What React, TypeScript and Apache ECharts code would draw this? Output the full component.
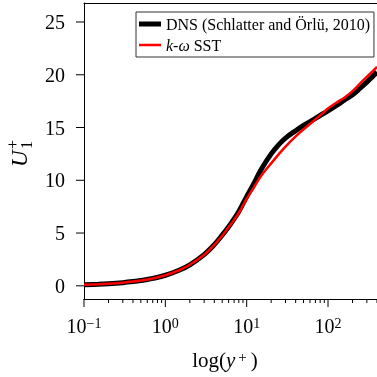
import React, { useEffect, useRef } from 'react';
import * as echarts from 'echarts';

const yPlus = [0.1, 0.15, 0.2, 0.3, 0.4, 0.5, 0.7, 1, 1.5, 2, 3, 4, 5, 6, 7, 8, 10, 12, 15, 20, 25, 30, 40, 50, 60, 80, 100, 130, 160, 200, 250, 300, 350, 400];
const dnsU = [0.1, 0.15, 0.2, 0.3, 0.4, 0.5, 0.7, 1.0, 1.5, 1.99, 2.96, 3.9, 4.8, 5.6, 6.35, 7.05, 8.45, 9.55, 11.0, 12.5, 13.4, 14.0, 14.7, 15.2, 15.56, 16.14, 16.58, 17.14, 17.62, 18.1, 18.75, 19.3, 19.8, 20.25];
const sstU = [0.1, 0.15, 0.2, 0.3, 0.4, 0.5, 0.7, 1.0, 1.5, 1.99, 2.95, 3.88, 4.75, 5.55, 6.25, 6.9, 8.25, 9.2, 10.4, 11.6, 12.5, 13.19, 14.16, 14.84, 15.34, 16.15, 16.8, 17.41, 17.85, 18.45, 19.2, 19.8, 20.3, 20.75];

const xMajorTicks = [0.1, 1, 10, 100];
const xMinorTicks = [0.2, 0.3, 0.4, 0.5, 0.6, 0.7, 0.8, 0.9, 2, 3, 4, 5, 6, 7, 8, 9, 20, 30, 40, 50, 60, 70, 80, 90, 200, 300, 400];
const yTicks = [0, 5, 10, 15, 20, 25];
const seriesNames = ['DNS (Schlatter and Örlü, 2010)', 'k-ω SST'];

const X_MIN = 0.1;
const X_MAX = 400;
const Y_MIN = -1.25;
const Y_MAX = 26.8;
const FONT = "'Liberation Serif', 'Times New Roman', serif";

function tickSeries(name: string, data: number[][], dir: 'down' | 'left', len: number) {
  return {
    type: 'custom', name, coordinateSystem: 'cartesian2d', xAxisIndex: 0, yAxisIndex: 0,
    silent: true, clip: false, z: 5,
    data,
    renderItem: (_params: any, api: any) => {
      const p = api.coord([api.value(0), api.value(1)]);
      const dx = dir === 'left' ? -len : 0;
      const dy = dir === 'down' ? len : 0;
      return {
        type: 'line',
        shape: { x1: p[0], y1: p[1], x2: p[0] + dx, y2: p[1] + dy },
        style: { stroke: '#000', lineWidth: 1 },
      };
    },
  };
}

export default function App() {
  const ref = useRef<HTMLDivElement>(null);
  useEffect(() => {
    const chart = echarts.init(ref.current as HTMLDivElement, null, { renderer: 'svg' });
    const option: any = {
      animation: false,
      grid: { left: 84, top: 3, width: 294, height: 296 },
      xAxis: [
        {
          type: 'log', logBase: 10, min: X_MIN, max: X_MAX, position: 'bottom',
          axisLine: { show: true, onZero: false, lineStyle: { color: '#000', width: 1 } },
          axisTick: { show: false },
          axisLabel: {
            margin: 17, color: '#000', showMaxLabel: false,
            formatter: (v: number) => {
              const e = Math.round(Math.log10(v));
              return `{b|10}{s|${e < 0 ? '−' + -e : e}}`;
            },
            rich: {
              b: { fontSize: 20, fontFamily: FONT, color: '#000', lineHeight: 20, verticalAlign: 'bottom' },
              s: { fontSize: 14, fontFamily: FONT, color: '#000', lineHeight: 14, verticalAlign: 'top', padding: [0, 0, 13, 0] },
            },
          },
          splitLine: { show: false },
        },
        {
          type: 'value', gridIndex: 0, min: Math.log10(X_MIN), max: Math.log10(X_MAX), position: 'top',
          axisLine: { show: true, onZero: false, lineStyle: { color: '#000', width: 1 } },
          axisTick: { show: false },
          axisLabel: { show: false },
          splitLine: { show: false },
        },
      ],
      yAxis: {
        type: 'value', min: Y_MIN, max: Y_MAX,
        axisLine: { show: true, onZero: false, lineStyle: { color: '#000', width: 1 } },
        axisTick: { show: false },
        axisLabel: { customValues: yTicks, fontSize: 20, fontFamily: FONT, color: '#000', margin: 19 },
        splitLine: { show: false },
      },
      legend: {
        orient: 'vertical', left: 136, top: 12,
        itemWidth: 22, itemHeight: 14, itemGap: 5,
        padding: [4, 4, 4, 3],
        borderColor: '#333', borderWidth: 1, borderRadius: 0, backgroundColor: '#fff',
        symbolKeepAspect: true,
        textStyle: {
          fontFamily: FONT, fontSize: 16, color: '#000', lineHeight: 16,
          rich: { i: { fontStyle: 'italic', fontFamily: FONT, fontSize: 16, color: '#000', lineHeight: 16 } },
        },
        formatter: (name: string) => (name === seriesNames[1] ? '{i|k}-{i|ω} SST' : name),
        data: [
          { name: seriesNames[0], icon: 'path://M0,0H22V5H0Z' },
          { name: seriesNames[1], icon: 'path://M0,0H22V2.5H0Z' },
        ],
      },
      series: [
        {
          type: 'line', name: seriesNames[0], xAxisIndex: 0, yAxisIndex: 0,
          data: yPlus.map((x, i) => [x, dnsU[i]]),
          symbol: 'none', smooth: 0.4,
          lineStyle: { color: '#000', width: 5 }, itemStyle: { color: '#000' }, z: 2,
        },
        {
          type: 'line', name: seriesNames[1], xAxisIndex: 0, yAxisIndex: 0,
          data: yPlus.map((x, i) => [x, sstU[i]]),
          symbol: 'none', smooth: 0.4,
          lineStyle: { color: '#ff0000', width: 2.5 }, itemStyle: { color: '#ff0000' }, z: 3,
        },
        tickSeries('xMajor', xMajorTicks.map((v) => [v, Y_MIN]), 'down', 8),
        tickSeries('xMinor', xMinorTicks.map((v) => [v, Y_MIN]), 'down', 4),
        tickSeries('yMajor', yTicks.map((v) => [X_MIN, v]), 'left', 8),
      ],
      graphic: [
        {
          type: 'text', x: 225, y: 360,
          style: {
            text: '{a|log(}{i|y}{s|+}{a|)}',
            align: 'center', verticalAlign: 'middle', textAlign: 'center', textVerticalAlign: 'middle',
            rich: {
              a: { fontSize: 21, fontFamily: FONT, fill: '#000', color: '#000', lineHeight: 21, verticalAlign: 'bottom' },
              i: { fontSize: 21, fontFamily: FONT, fontStyle: 'italic', fill: '#000', color: '#000', lineHeight: 21, verticalAlign: 'bottom' },
              s: { fontSize: 15, fontFamily: FONT, fill: '#000', color: '#000', lineHeight: 15, verticalAlign: 'top', padding: [0, 4, 10, 3] },
            },
          },
        },
        {
          type: 'group', x: 27, y: 167, rotation: Math.PI / 2,
          children: [
            { type: 'text', x: 0, y: -8, style: { text: 'U', font: `italic 23px ${FONT}`, fill: '#000', verticalAlign: 'middle', textVerticalAlign: 'middle' } },
            { type: 'text', x: 18, y: -15, style: { text: '+', font: `16px ${FONT}`, fill: '#000', verticalAlign: 'middle', textVerticalAlign: 'middle' } },
            { type: 'text', x: 18, y: -1, style: { text: '1', font: `16px ${FONT}`, fill: '#000', verticalAlign: 'middle', textVerticalAlign: 'middle' } },
          ],
        },
      ],
    };
    chart.setOption(option);
    return () => chart.dispose();
  }, []);
  return <div ref={ref} style={{ position: 'fixed', left: 0, top: 0, width: 377, height: 377 }} />;
}
